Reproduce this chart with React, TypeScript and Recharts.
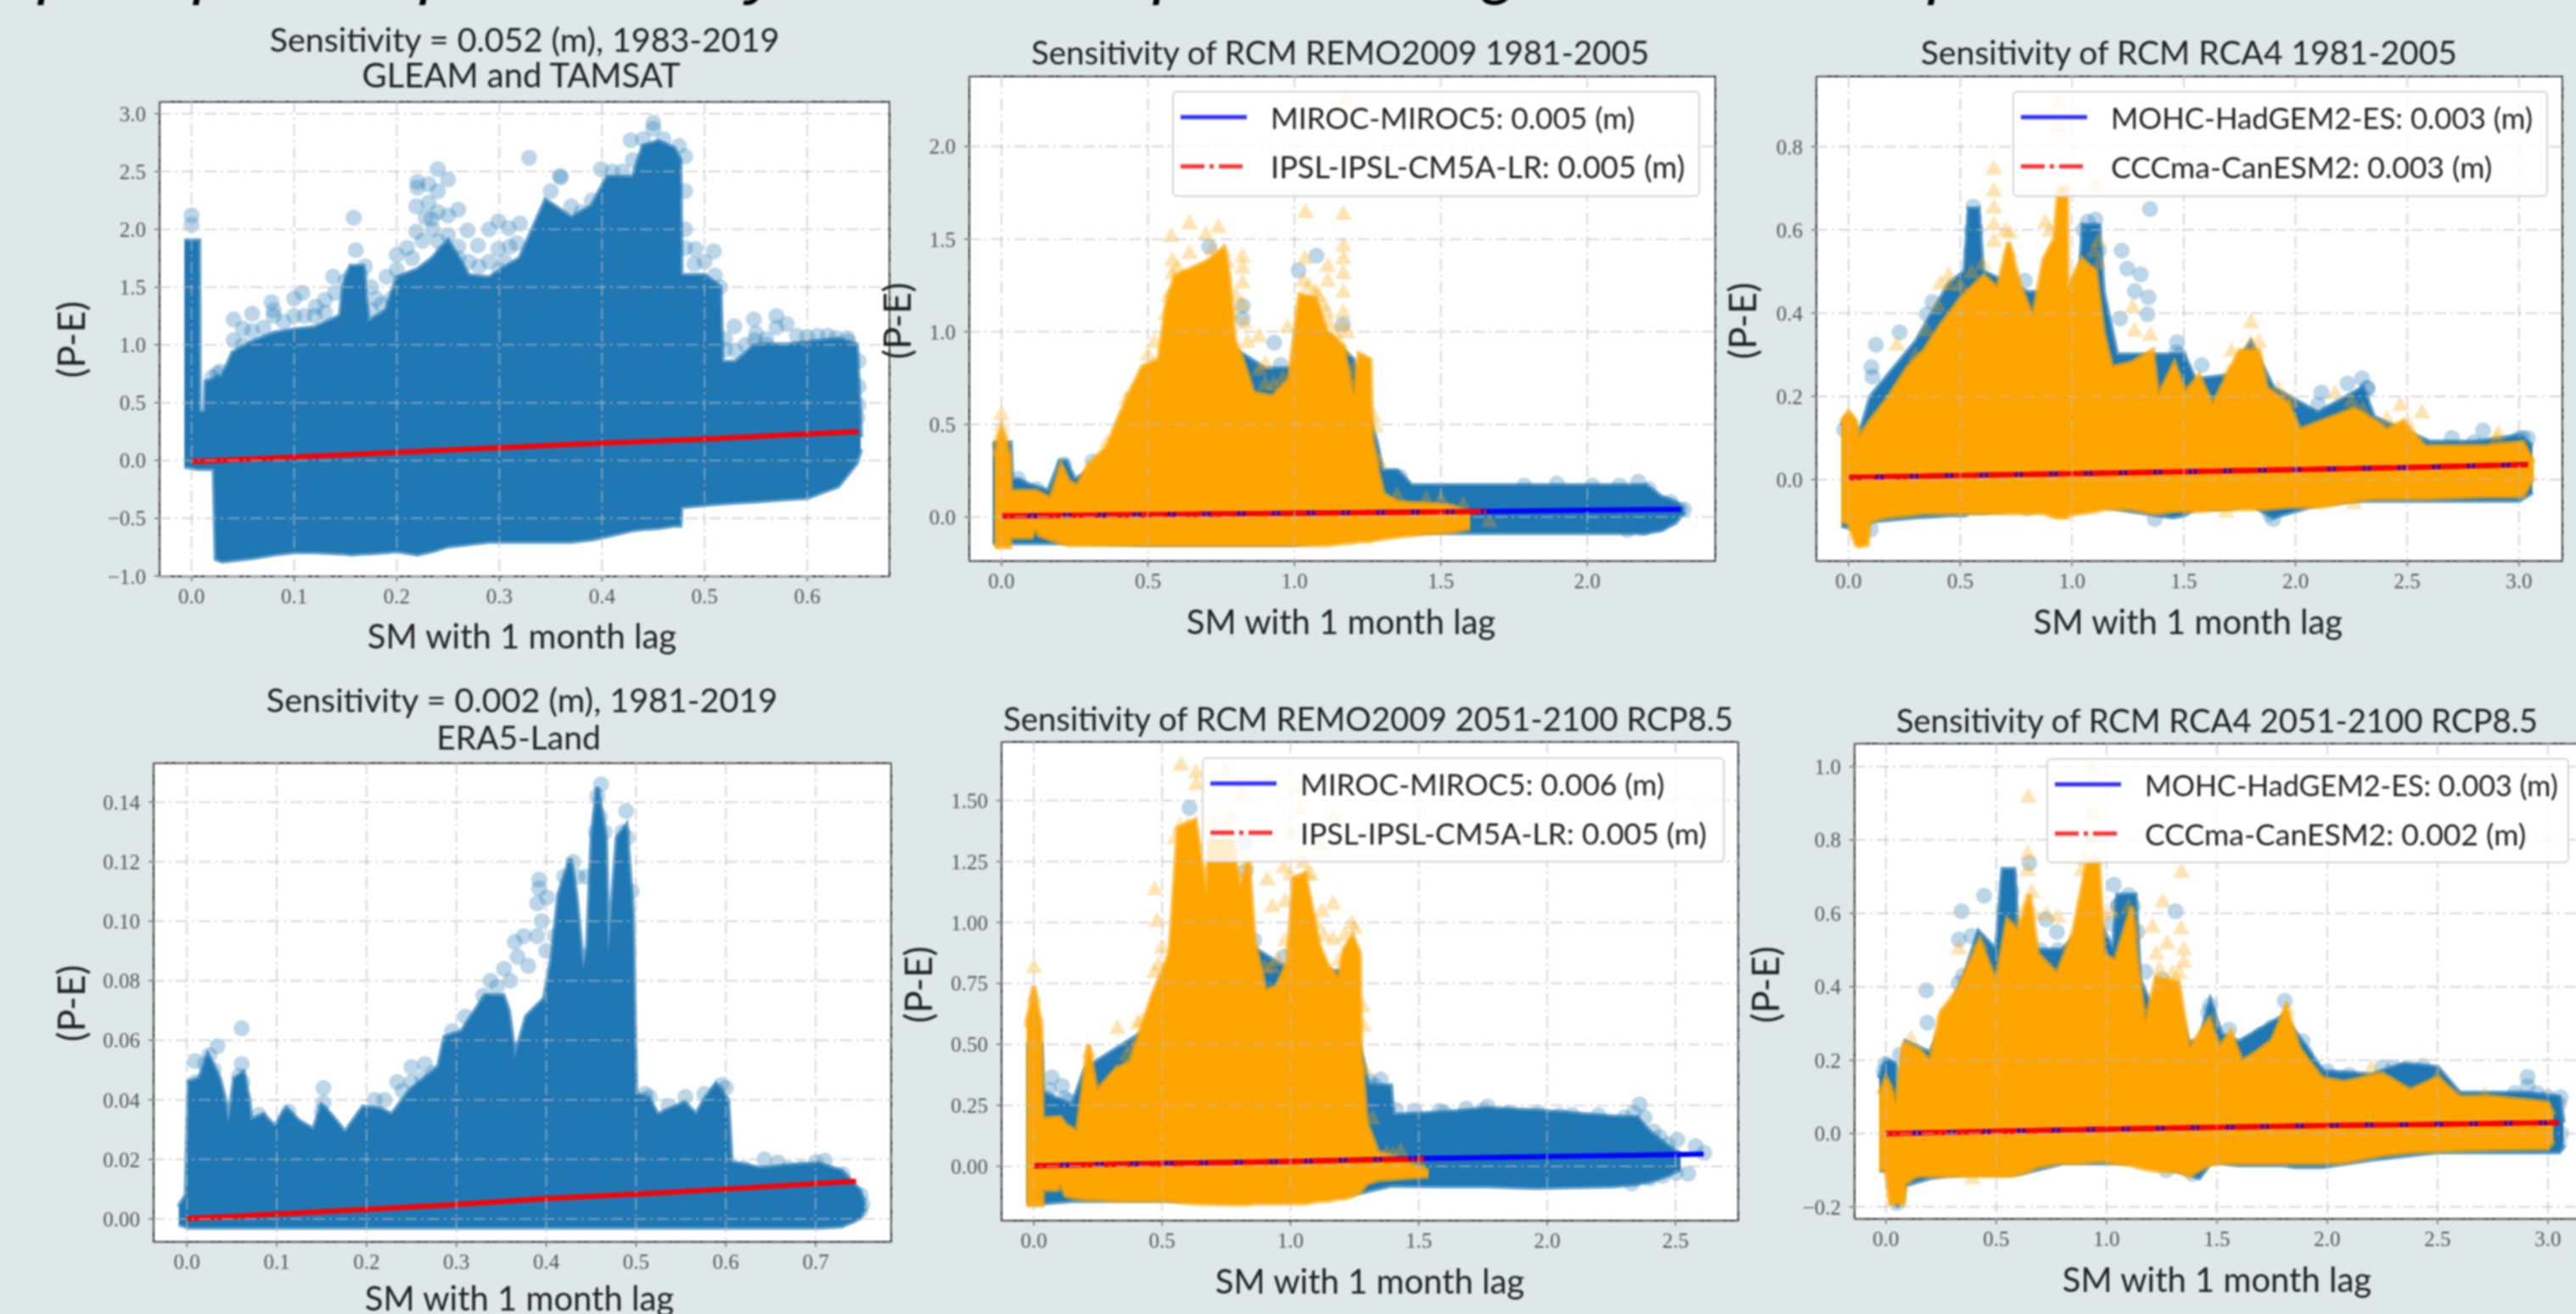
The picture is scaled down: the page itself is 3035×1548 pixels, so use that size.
import { ComposedChart, Area, Scatter, Line, XAxis, YAxis, CartesianGrid } from 'recharts';

const BLUE = '#1f77b4';
const ORANGE = '#ffa500';
const SANS = 'Lato, "Open Sans", sans-serif';
const SERIF = '"Liberation Serif", serif';

const X_LABEL = 'SM with 1 month lag';
const Y_LABEL = '(P-E)';

// ---- panel A: GLEAM and TAMSAT
const A_SM = [-0.007, 0.007, 0.0075, 0.013, 0.014, 0.022, 0.024, 0.03, 0.04, 0.06, 0.08, 0.1, 0.12, 0.145, 0.148, 0.155, 0.167, 0.172, 0.19, 0.2, 0.22, 0.235, 0.25, 0.27, 0.29, 0.32, 0.33, 0.345, 0.37, 0.39, 0.405, 0.43, 0.44, 0.455, 0.47, 0.476, 0.477, 0.5, 0.515, 0.517, 0.53, 0.55, 0.58, 0.6, 0.63, 0.648, 0.652];
const A_UPPER = [1.9, 1.9, 0.42, 0.42, 0.68, 0.7, 0.72, 0.72, 0.93, 1.03, 1.1, 1.13, 1.15, 1.25, 1.5, 1.68, 1.68, 1.2, 1.3, 1.58, 1.65, 1.75, 1.9, 1.6, 1.58, 1.75, 1.95, 2.25, 2.1, 2.2, 2.45, 2.45, 2.72, 2.76, 2.7, 2.6, 1.6, 1.6, 1.5, 0.85, 0.85, 1.0, 1.0, 1.02, 1.05, 1.0, 0.2];
const A_LOWER = [-0.05, -0.07, -0.07, -0.07, -0.07, -0.07, -0.85, -0.87, -0.86, -0.84, -0.81, -0.79, -0.79, -0.8, -0.8, -0.81, -0.8, -0.8, -0.79, -0.78, -0.81, -0.78, -0.74, -0.72, -0.7, -0.7, -0.7, -0.7, -0.7, -0.68, -0.65, -0.6, -0.59, -0.58, -0.56, -0.56, -0.4, -0.38, -0.37, -0.37, -0.36, -0.35, -0.33, -0.32, -0.22, -0.02, 0.1];
const A_POINTS = [[0, 2.12], [0, 2.04], [0.158, 2.1], [0.16, 1.82], [0.2, 1.78], [0.21, 1.84], [0.19, 1.59], [0.138, 1.59], [0.22, 2.41], [0.22, 2.36], [0.24, 2.52], [0.25, 2.43], [0.24, 2.33], [0.231, 2.39], [0.219, 2.2], [0.231, 2.23], [0.26, 2.17], [0.25, 2.12], [0.269, 1.99], [0.219, 1.98], [0.234, 2.09], [0.299, 2.07], [0.29, 2.0], [0.309, 2.01], [0.32, 2.05], [0.279, 1.86], [0.299, 1.83], [0.317, 1.88], [0.329, 2.62], [0.359, 2.46], [0.35, 2.33], [0.399, 2.52], [0.428, 2.77], [0.45, 2.92], [0.45, 2.87], [0.481, 2.63], [0.481, 2.33], [0.481, 2.0], [0.481, 1.84], [0.509, 1.81], [0.491, 1.83], [0.529, 1.16], [0.548, 1.22], [0.57, 1.25], [0.58, 1.18], [0.57, 1.15], [0.549, 1.04], [0.56, 1.05], [0.631, -0.08], [0.65, 0.86], [0.65, 0.64], [0.65, 0.48], [0.649, 0.37], [0.628, 1.06], [0.639, 1.06], [0.52, 0.96], [0.041, 1.22], [0.059, 1.27], [0.041, 1.04], [0.059, 1.12], [0.05, 1.14], [0.028, 0.77], [0.078, 1.37], [0.1, 1.4], [0.108, 1.45], [0.121, 1.33], [0.13, 1.39], [0.169, 1.68],
  [0.225, 1.9], [0.235, 2.0], [0.245, 1.8], [0.25, 1.95], [0.24, 2.15], [0.228, 2.1], [0.215, 1.75], [0.26, 1.75], [0.27, 1.72], [0.28, 1.68], [0.29, 1.72], [0.3, 1.65], [0.305, 1.72], [0.31, 1.85], [0.26, 1.85], [0.24, 1.9], [0.36, 2.45], [0.37, 2.2], [0.38, 2.15], [0.385, 2.05], [0.39, 2.25], [0.41, 2.5], [0.42, 2.5], [0.43, 2.6], [0.44, 2.78], [0.46, 2.78], [0.475, 2.72], [0.49, 1.7], [0.5, 1.72], [0.51, 1.6], [0.515, 1.5], [0.52, 1.05], [0.53, 0.95], [0.54, 1.0], [0.55, 1.1], [0.56, 1.0], [0.59, 1.08], [0.6, 1.07], [0.61, 1.08], [0.62, 1.08], [0.64, 1.03], [0.07, 1.15], [0.08, 1.25], [0.08, 1.3], [0.09, 1.2], [0.1, 1.25], [0.11, 1.25], [0.12, 1.25], [0.13, 1.28], [0.14, 1.45], [0.15, 1.55], [0.155, 1.6], [0.165, 1.6], [0.175, 1.5], [0.18, 1.4], [0.185, 1.35], [0.175, 1.3], [0.195, 1.4], [0.2, 1.65], [0.21, 1.55], [0.025, 0.75], [0.02, 0.72], [0.06, 0.95], [0.05, 1.0]];
const A_FIT_X = [0, 0.1, 0.2, 0.3, 0.4, 0.5, 0.6, 0.65];
const A_FIT_Y = [-0.01, 0.03, 0.07, 0.11, 0.15, 0.185, 0.23, 0.25];

// ---- panel B: REMO2009 1981-2005
const B_BLUE_SM = [-0.03, 0.03, 0.035, 0.06, 0.1, 0.16, 0.2, 0.22, 0.25, 0.3, 0.5, 0.6, 0.7, 0.8, 0.9, 1.0, 1.1, 1.2, 1.28, 1.3, 1.35, 1.4, 1.6, 1.8, 2.1, 2.2, 2.25, 2.3, 2.33];
const B_BLUE_UPPER = [0.4, 0.4, 0.2, 0.2, 0.17, 0.14, 0.3, 0.3, 0.2, 0.25, 0.5, 1.0, 1.3, 0.9, 0.8, 0.8, 1.0, 0.85, 0.4, 0.25, 0.25, 0.17, 0.17, 0.17, 0.17, 0.17, 0.11, 0.08, 0.04];
const B_BLUE_LOWER = [-0.14, -0.14, -0.14, -0.14, -0.14, -0.14, -0.14, -0.14, -0.14, -0.14, -0.15, -0.15, -0.15, -0.15, -0.15, -0.15, -0.13, -0.12, -0.1, -0.09, -0.085, -0.085, -0.085, -0.085, -0.085, -0.085, -0.07, -0.03, 0.03];
const B_ORANGE_SM = [-0.024, 0, 0.028, 0.031, 0.102, 0.117, 0.13, 0.167, 0.204, 0.231, 0.259, 0.296, 0.361, 0.407, 0.481, 0.537, 0.564, 0.592, 0.703, 0.759, 0.777, 0.796, 0.823, 0.86, 0.925, 0.981, 1.018, 1.073, 1.11, 1.166, 1.203, 1.221, 1.258, 1.264, 1.286, 1.304, 1.351, 1.443, 1.536, 1.6];
const B_ORANGE_UPPER = [0.33, 0.47, 0.33, 0.14, 0.14, 0.14, 0.13, 0.1, 0.28, 0.19, 0.17, 0.28, 0.38, 0.56, 0.81, 0.85, 1.15, 1.3, 1.38, 1.45, 1.3, 0.95, 0.85, 0.67, 0.65, 0.74, 1.2, 1.18, 1.0, 0.92, 0.65, 0.88, 0.85, 0.44, 0.24, 0.125, 0.08, 0.07, 0.06, 0.02];
const B_ORANGE_LOWER = [-0.16, -0.16, -0.16, -0.11, -0.11, -0.06, -0.1, -0.12, -0.14, -0.15, -0.15, -0.15, -0.15, -0.15, -0.15, -0.15, -0.15, -0.15, -0.15, -0.15, -0.15, -0.15, -0.15, -0.15, -0.15, -0.15, -0.15, -0.15, -0.15, -0.14, -0.135, -0.13, -0.13, -0.125, -0.12, -0.115, -0.105, -0.09, -0.08, -0.06];
const B_CIRCLES = [[0.709, 1.46], [1.075, 1.41], [1.014, 1.33], [0.931, 0.94], [0.953, 0.82], [0.823, 1.14], [0.823, 1.07], [0.638, 1.27], [1.166, 1.04], [1.119, 0.95], [0.984, 0.72], [0.213, 0.285], [0.311, 0.3], [0.056, 0.205], [0.12, 0.15], [1.332, 0.217], [1.36, 0.217], [2.174, 0.19], [2.21, 0.15], [2.285, 0.08], [2.316, 0.04], [2.25, -0.04], [1.896, 0.18], [2.017, 0.17], [2.11, 0.17], [1.785, 0.17], [2.19, -0.06], [2.137, -0.07], [2.33, 0.04]];
const B_TRIANGLES = [[1.177, 2.26], [0, 0.56], [0, 0.46], [0.642, 1.59], [0.74, 1.57], [0.698, 1.53], [0.579, 1.52], [1.038, 1.65], [1.167, 1.64], [1.167, 1.47], [1.167, 1.4], [1.167, 1.32], [1.114, 1.36], [1.114, 1.28], [1.167, 1.22], [1.036, 1.4], [0.823, 1.41], [0.823, 1.35], [0.823, 1.27], [0.642, 1.43], [0.583, 1.39], [0.583, 1.32], [0.583, 1.22], [0.759, 1.44], [0.977, 1.03], [0.879, 0.98], [0.522, 0.95], [0.901, 0.83], [1.166, 1.11], [1.166, 1.04], [1.277, 0.49], [0.481, 0.76], [0.444, 0.68], [0.426, 0.64], [0.361, 0.41], [1.576, 0.07], [1.665, -0.02], [1.267, 0.35], [1.073, 1.22], [1.11, 1.11],
  [0.56, 1.1], [0.6, 1.35], [0.62, 1.3], [0.64, 1.25], [0.57, 1.2], [0.66, 1.3], [0.72, 1.45], [0.77, 1.38], [0.79, 1.1], [0.8, 1.2], [0.82, 1.15], [0.83, 1.05], [0.84, 0.95], [0.88, 0.8], [1.03, 1.28], [1.05, 1.25], [1.08, 1.2], [1.1, 1.15], [1.12, 1.05], [1.14, 1.0], [1.15, 0.95], [1.17, 0.9], [1.18, 1.0], [1.2, 0.8], [0.5, 0.88], [0.47, 0.7], [0.44, 0.6], [0.4, 0.5], [0.93, 0.72], [0.96, 0.75], [0.9, 0.72], [1.27, 0.55], [1.29, 0.3], [1.35, 0.12], [1.45, 0.1], [1.5, 0.1], [0, 0.5], [-0.01, 0.42], [0.01, 0.42]];
const B_MIROC_X = [0, 0.5, 1, 1.5, 2, 2.32];
const B_MIROC_Y = [0.005, 0.013, 0.02, 0.027, 0.036, 0.041];
const B_IPSL_X = [0, 0.5, 1, 1.5, 1.66];
const B_IPSL_Y = [0.006, 0.013, 0.019, 0.027, 0.03];

// ---- panel C: RCA4 1981-2005
const C_BLUE_SM = [-0.032, 0, 0.05, 0.1, 0.3, 0.45, 0.52, 0.54, 0.58, 0.6, 0.8, 1.03, 1.05, 1.12, 1.14, 1.2, 1.45, 1.5, 1.55, 1.7, 1.8, 1.9, 2.1, 2.3, 2.35, 2.6, 2.8, 3.0, 3.06];
const C_BLUE_UPPER = [0.13, 0.15, 0.11, 0.2, 0.33, 0.47, 0.5, 0.65, 0.65, 0.5, 0.45, 0.45, 0.61, 0.61, 0.45, 0.3, 0.3, 0.3, 0.24, 0.25, 0.33, 0.22, 0.16, 0.22, 0.15, 0.09, 0.09, 0.105, 0.08];
const C_BLUE_LOWER = [-0.11, -0.115, -0.12, -0.1, -0.09, -0.085, -0.085, -0.08, -0.08, -0.08, -0.07, -0.07, -0.065, -0.065, -0.065, -0.07, -0.09, -0.085, -0.07, -0.07, -0.06, -0.09, -0.06, -0.05, -0.05, -0.05, -0.05, -0.05, -0.03];
const C_ORANGE_SM = [-0.032, 0, 0.034, 0.046, 0.083, 0.095, 0.168, 0.265, 0.338, 0.411, 0.508, 0.606, 0.667, 0.716, 0.765, 0.825, 0.874, 0.923, 0.94, 0.976, 0.979, 1.045, 1.106, 1.142, 1.178, 1.264, 1.361, 1.385, 1.458, 1.507, 1.568, 1.629, 1.751, 1.836, 1.872, 1.97, 2.019, 2.116, 2.262, 2.359, 2.408, 2.481, 2.579, 2.846, 3.017, 3.066];
const C_ORANGE_UPPER = [0.138, 0.163, 0.138, 0.1, 0.13, 0.14, 0.19, 0.27, 0.31, 0.37, 0.44, 0.49, 0.46, 0.57, 0.47, 0.39, 0.53, 0.58, 0.7, 0.7, 0.46, 0.53, 0.5, 0.35, 0.27, 0.28, 0.31, 0.2, 0.28, 0.21, 0.25, 0.18, 0.31, 0.31, 0.22, 0.18, 0.12, 0.14, 0.17, 0.14, 0.12, 0.14, 0.08, 0.08, 0.09, 0.04];
const C_ORANGE_LOWER = [-0.1, -0.105, -0.156, -0.16, -0.156, -0.1, -0.09, -0.085, -0.08, -0.08, -0.08, -0.08, -0.08, -0.08, -0.08, -0.08, -0.08, -0.09, -0.09, -0.09, -0.085, -0.08, -0.075, -0.07, -0.07, -0.07, -0.08, -0.08, -0.075, -0.075, -0.075, -0.072, -0.07, -0.07, -0.07, -0.065, -0.065, -0.065, -0.05, -0.045, -0.045, -0.045, -0.045, -0.04, -0.04, 0.006];
const C_CIRCLES = [[1.349, 0.65], [1.222, 0.55], [1.247, 0.507], [1.307, 0.493], [1.281, 0.453], [1.342, 0.438], [1.337, 0.397], [1.215, 0.387], [0.229, 0.354], [0.122, 0.324], [0.102, 0.27], [0.107, 0.247], [0.351, 0.397], [0.375, 0.427], [0.789, 0.478], [1.58, 0.275], [1.466, 0.306], [2.298, 0.243], [2.233, 0.231], [2.116, 0.209], [2.323, 0.219], [2.839, 0.118], [3.017, 0.1], [1.885, -0.083], [0.558, 0.656], [1.105, 0.625],
  [0.55, 0.6], [0.56, 0.63], [0.57, 0.6], [0.55, 0.55], [1.05, 0.6], [1.07, 0.62], [1.1, 0.6], [1.12, 0.55], [1.48, 0.3], [1.47, 0.33], [2.1, 0.18], [2.15, 0.16], [2.2, 0.16], [2.3, 0.2], [2.32, 0.22], [3.0, 0.1], [3.04, 0.1], [2.8, 0.09], [2.7, 0.1], [0, 0.14], [-0.02, 0.12], [0.1, -0.12], [0.8, -0.07], [1.37, -0.095], [1.9, -0.095]];
const C_TRIANGLES = [[0.942, 0.91], [0.942, 0.85], [0.65, 0.749], [0.65, 0.696], [0.65, 0.656], [0.65, 0.615], [0.65, 0.575], [1.11, 0.71], [0.721, 0.595], [0.217, 0.326], [0.411, 0.473], [0.448, 0.493], [1.8, 0.38], [1.836, 0.333], [1.714, 0.311], [2.469, 0.181], [2.566, 0.163], [2.408, 0.148], [2.177, 0.209], [0.959, -0.08], [1.69, -0.075], [2.262, -0.055], [1.271, 0.417], [1.118, 0.575], [1.921, 0.219], [1.982, 0.189], [2.907, 0.113],
  [0.6, 0.52], [0.55, 0.5], [0.5, 0.47], [0.45, 0.47], [0.4, 0.42], [0.35, 0.36], [0.3, 0.3], [0.7, 0.6], [0.72, 0.55], [0.9, 0.6], [0.88, 0.62], [1.1, 0.55], [1.12, 0.52], [1.28, 0.36], [1.35, 0.35], [1.7, 0.26], [1.8, 0.33], [1.95, 0.2], [2.25, 0.19], [2.3, 0.17], [2.5, 0.14], [2.9, 0.1]];
const C_FIT_X = [0, 0.5, 1, 1.5, 2, 2.5, 3.04];
const C_FIT_Y = [0.005, 0.01, 0.014, 0.019, 0.024, 0.029, 0.036];

// ---- panel D: ERA5-Land
const D_SM = [-0.009, -0.0007, 0.002, 0.0137, 0.0234, 0.0364, 0.043, 0.046, 0.053, 0.0625, 0.069, 0.071, 0.085, 0.098, 0.111, 0.124, 0.141, 0.15, 0.16, 0.176, 0.196, 0.215, 0.228, 0.248, 0.28, 0.287, 0.306, 0.332, 0.352, 0.358, 0.365, 0.378, 0.398, 0.407, 0.414, 0.427, 0.433, 0.441, 0.446, 0.451, 0.457, 0.466, 0.469, 0.479, 0.489, 0.496, 0.4997, 0.515, 0.524, 0.554, 0.567, 0.576, 0.589, 0.602, 0.606, 0.638, 0.703, 0.729, 0.749, 0.754];
const D_UPPER = [0.004, 0.008, 0.046, 0.047, 0.055, 0.047, 0.039, 0.032, 0.047, 0.049, 0.04, 0.033, 0.035, 0.031, 0.037, 0.033, 0.03, 0.038, 0.035, 0.029, 0.0375, 0.037, 0.035, 0.043, 0.051, 0.061, 0.063, 0.075, 0.075, 0.07, 0.054, 0.068, 0.074, 0.089, 0.109, 0.121, 0.109, 0.084, 0.092, 0.128, 0.145, 0.128, 0.089, 0.128, 0.132, 0.103, 0.042, 0.04, 0.035, 0.039, 0.035, 0.04, 0.045, 0.04, 0.019, 0.017, 0.0186, 0.016, 0.0095, 0.0046];
const D_LOWER = [-0.0017, -0.0025, -0.0028, -0.0028, -0.0028, -0.0028, -0.0028, -0.0028, -0.0028, -0.0028, -0.0028, -0.0028, -0.0028, -0.0028, -0.0028, -0.0028, -0.0028, -0.0028, -0.0028, -0.0028, -0.0028, -0.0028, -0.0028, -0.0028, -0.0028, -0.0028, -0.0028, -0.0028, -0.0028, -0.0028, -0.0028, -0.0028, -0.0028, -0.0028, -0.0028, -0.0028, -0.0028, -0.0028, -0.0028, -0.0028, -0.0028, -0.0028, -0.0028, -0.0028, -0.0028, -0.0028, -0.0028, -0.0028, -0.0028, -0.0028, -0.0028, -0.0028, -0.0028, -0.0028, -0.0028, -0.0028, -0.0028, -0.0024, 0.0004, 0.0035];
const D_POINTS = [[0.461, 0.146], [0.457, 0.142], [0.489, 0.137], [0.392, 0.114], [0.392, 0.111], [0.401, 0.108], [0.39, 0.106], [0.445, 0.115], [0.365, 0.093], [0.375, 0.095], [0.368, 0.088], [0.353, 0.084], [0.338, 0.08], [0.061, 0.064], [0.034, 0.058], [0.009, 0.053], [0.061, 0.052], [0.152, 0.044], [0.152, 0.039], [0.25, 0.051], [0.265, 0.052], [0.274, 0.049], [0.25, 0.046], [0.262, 0.047], [0.234, 0.046], [0.209, 0.04], [0.555, 0.041], [0.51, 0.042], [0.643, 0.02], [0.71, 0.0196], [0.658, 0.019], [0.684, 0.017], [0.08, 0.035], [0.113, 0.036], [0.365, 0.057], [0.536, 0.038], [0.576, 0.042],
  [0.39, 0.095], [0.395, 0.1], [0.38, 0.085], [0.36, 0.08], [0.345, 0.078], [0.33, 0.075], [0.31, 0.068], [0.295, 0.063], [0.4, 0.09], [0.41, 0.095], [0.42, 0.115], [0.43, 0.12], [0.435, 0.115], [0.455, 0.13], [0.46, 0.135], [0.465, 0.13], [0.485, 0.13], [0.49, 0.128], [0.495, 0.11], [0.02, 0.052], [0.025, 0.055], [0.03, 0.05], [0.01, 0.046], [0.058, 0.048], [0.062, 0.046], [0.15, 0.036], [0.11, 0.034], [0.22, 0.04], [0.24, 0.043], [0.6, 0.044], [0.595, 0.045], [0.59, 0.043], [0.51, 0.04], [0.515, 0.041], [0.62, 0.017], [0.67, 0.017], [0.7, 0.019], [0.73, 0.015], [0.75, 0.008], [0.752, 0.005], [0.75, 0.003], [0.74, 0.001]];
const D_FIT_X = [0, 0.1, 0.2, 0.3, 0.4, 0.5, 0.6, 0.7, 0.745];
const D_FIT_Y = [0.0001, 0.0016, 0.0032, 0.0048, 0.0068, 0.0083, 0.01, 0.0118, 0.0127];

// ---- panel E: REMO2009 2051-2100
const E_BLUE_SM = [-0.03, 0.03, 0.035, 0.15, 0.2, 0.5, 0.7, 1.0, 1.2, 1.29, 1.3, 1.39, 1.4, 1.6, 1.77, 1.95, 2.26, 2.35, 2.4, 2.46, 2.52];
const E_BLUE_UPPER = [0.5, 0.5, 0.3, 0.25, 0.4, 0.6, 1.0, 0.8, 0.8, 0.4, 0.33, 0.33, 0.21, 0.22, 0.237, 0.228, 0.203, 0.2, 0.14, 0.09, 0.05];
const E_BLUE_LOWER = [-0.15, -0.15, -0.15, -0.14, -0.14, -0.14, -0.14, -0.14, -0.12, -0.104, -0.1, -0.078, -0.078, -0.08, -0.08, -0.087, -0.08, -0.07, -0.06, -0.04, -0.01];
const E_ORANGE_SM = [-0.028, 0, 0.028, 0.033, 0.035, 0.092, 0.103, 0.125, 0.169, 0.213, 0.245, 0.322, 0.377, 0.464, 0.53, 0.563, 0.629, 0.673, 0.684, 0.771, 0.804, 0.837, 0.859, 0.903, 0.947, 0.99, 1.012, 1.056, 1.111, 1.144, 1.188, 1.209, 1.242, 1.269, 1.275, 1.297, 1.341, 1.538];
const E_ORANGE_UPPER = [0.57, 0.74, 0.57, 0.245, 0.195, 0.2, 0.2, 0.17, 0.143, 0.5, 0.31, 0.4, 0.43, 0.705, 0.875, 1.387, 1.42, 1.114, 1.335, 1.335, 1.148, 1.25, 0.927, 0.72, 0.74, 0.84, 1.18, 1.2, 0.91, 0.825, 0.77, 0.89, 0.944, 0.875, 0.467, 0.177, 0.058, -0.019];
const E_ORANGE_LOWER = [-0.158, -0.158, -0.158, -0.158, -0.095, -0.095, -0.07, -0.12, -0.13, -0.135, -0.135, -0.14, -0.14, -0.14, -0.14, -0.145, -0.15, -0.152, -0.152, -0.155, -0.155, -0.155, -0.15, -0.15, -0.15, -0.15, -0.15, -0.15, -0.14, -0.14, -0.13, -0.13, -0.12, -0.105, -0.1, -0.07, -0.055, -0.04];
const E_CIRCLES = [[0.607, 1.47], [0.826, 1.21], [0.826, 1.33], [0.859, 0.927], [0.975, 0.86], [0.979, 0.8], [0.07, 0.365], [0.059, 0.313], [0.11, 0.33], [0.136, 0.27], [1.352, 0.356], [1.308, 0.348], [1.411, 0.232], [1.483, 0.228], [1.582, 0.228], [1.685, 0.237], [1.768, 0.245], [2.36, 0.254], [2.338, 0.22], [2.415, 0.143], [2.507, 0.109], [2.579, 0.083], [2.612, 0.055], [2.55, -0.03], [2.502, -0.027], [2.426, 0.024], [1.965, 0.22], [2.097, 0.211],
  [1.3, 0.33], [1.33, 0.33], [1.36, 0.28], [1.6, 0.22], [1.75, 0.23], [1.85, 0.22], [2.05, 0.21], [2.2, 0.21], [2.3, 0.2], [2.38, 0.2], [2.44, 0.12], [2.47, 0.09], [2.4, -0.05], [2.45, -0.04], [2.33, -0.07], [0.12, 0.28], [0.09, 0.25], [0.05, 0.28]];
const E_TRIANGLES = [[0.574, 1.65], [0.633, 1.62], [0.633, 1.57], [0.749, 1.63], [0.767, 1.44], [0.815, 1.53], [1.034, 1.47], [1.045, 1.56], [1.166, 1.44], [1.004, 1.37], [1.111, 1.32], [1.034, 1.28], [0.973, 1.23], [0.909, 1.18], [1.065, 1.2], [0.471, 1.14], [0.929, 1.07], [0.979, 1.09], [0.48, 1.01], [1.166, 1.08], [1.238, 1.0], [1.122, 1.05], [0.486, 0.83], [0, 0.82], [0.326, 0.57], [0.405, 0.59], [0.215, 0.47], [0.322, 0.39], [0.362, 0.46], [1.286, 0.58], [1.429, 0.066], [1.374, 0.058], [1.282, 0.66], [0.979, 0.93], [1.166, 0.935], [0.925, 0.82], [0.815, 0.655],
  [0.55, 1.35], [0.57, 1.4], [0.6, 1.4], [0.7, 1.42], [0.75, 1.38], [0.78, 1.3], [0.83, 1.25], [1.0, 1.2], [1.05, 1.25], [1.08, 1.2], [1.1, 1.0], [1.13, 0.95], [1.19, 0.85], [1.21, 0.95], [1.25, 0.98], [0.5, 0.9], [0.47, 0.8], [0.42, 0.6], [0.39, 0.5], [0.9, 0.82], [0.95, 0.85], [1.0, 0.9], [1.29, 0.4], [1.32, 0.2], [1.4, 0.05], [1.5, 0.02], [0, 0.7], [-0.01, 0.62], [0.01, 0.62]];
const E_MIROC_X = [0, 0.5, 1, 1.5, 2, 2.5, 2.61];
const E_MIROC_Y = [0.003, 0.012, 0.02, 0.032, 0.04, 0.048, 0.051];
const E_IPSL_X = [0, 0.5, 1, 1.52];
const E_IPSL_Y = [0.002, 0.011, 0.02, 0.03];

// ---- panel F: RCA4 2051-2100
const F_BLUE_SM = [-0.03, 0, 0.04, 0.05, 0.09, 0.2, 0.35, 0.42, 0.5, 0.53, 0.58, 0.6, 0.8, 0.95, 1.03, 1.05, 1.13, 1.15, 1.2, 1.3, 1.37, 1.42, 1.47, 1.52, 1.6, 1.8, 1.85, 1.98, 2.2, 2.35, 2.5, 2.6, 2.9, 3.05, 3.07];
const F_BLUE_UPPER = [0.15, 0.2, 0.19, 0.1, 0.25, 0.22, 0.42, 0.55, 0.5, 0.72, 0.72, 0.5, 0.5, 0.6, 0.5, 0.65, 0.65, 0.42, 0.35, 0.4, 0.25, 0.25, 0.36, 0.27, 0.25, 0.32, 0.28, 0.17, 0.16, 0.19, 0.18, 0.11, 0.11, 0.1, 0.03];
const F_BLUE_LOWER = [-0.1, -0.1, -0.1, -0.2, -0.14, -0.12, -0.11, -0.11, -0.11, -0.11, -0.11, -0.11, -0.08, -0.08, -0.08, -0.08, -0.08, -0.08, -0.08, -0.1, -0.11, -0.12, -0.08, -0.08, -0.085, -0.085, -0.09, -0.09, -0.07, -0.06, -0.05, -0.05, -0.05, -0.05, -0.03];
const F_ORANGE_SM = [-0.03, 0, 0.02, 0.045, 0.08, 0.088, 0.125, 0.15, 0.2, 0.25, 0.325, 0.425, 0.5, 0.55, 0.6, 0.65, 0.688, 0.775, 0.85, 0.913, 0.963, 0.988, 1.038, 1.113, 1.138, 1.175, 1.225, 1.325, 1.375, 1.463, 1.513, 1.563, 1.613, 1.675, 1.75, 1.813, 1.875, 1.975, 2.075, 2.25, 2.375, 2.5, 2.6, 2.75, 3.0, 3.025];
const F_ORANGE_UPPER = [0.107, 0.152, 0.129, 0.078, 0.243, 0.243, 0.235, 0.23, 0.197, 0.33, 0.39, 0.526, 0.413, 0.583, 0.549, 0.651, 0.49, 0.436, 0.549, 0.742, 0.742, 0.49, 0.47, 0.617, 0.47, 0.3, 0.424, 0.413, 0.23, 0.31, 0.237, 0.277, 0.197, 0.22, 0.254, 0.345, 0.23, 0.152, 0.14, 0.163, 0.118, 0.152, 0.1, 0.1, 0.084, 0.05];
const F_ORANGE_LOWER = [-0.098, -0.098, -0.19, -0.19, -0.19, -0.137, -0.12, -0.115, -0.115, -0.115, -0.115, -0.115, -0.115, -0.115, -0.11, -0.1, -0.09, -0.08, -0.08, -0.078, -0.075, -0.075, -0.08, -0.085, -0.09, -0.095, -0.1, -0.103, -0.115, -0.085, -0.08, -0.08, -0.08, -0.08, -0.08, -0.08, -0.08, -0.08, -0.078, -0.058, -0.05, -0.047, -0.045, -0.042, -0.04, -0.02];
const F_CIRCLES = [[0.445, 0.648], [0.343, 0.606], [0.183, 0.39], [0.188, 0.302], [0.33, 0.529], [0.388, 0.538], [0.65, 0.737], [1.033, 0.678], [1.055, 0.623], [1.025, 0.572], [1.313, 0.606], [1.175, 0.441], [1.808, 0.362], [1.888, 0.252], [1.555, 0.283], [2.433, 0.184], [2.908, 0.154], [2.908, 0.129], [3.058, 0.099], [0.725, 0.583], [0.775, 0.549], [0.063, 0.215],
  [0.55, 0.68], [0.56, 0.7], [0.57, 0.66], [0.54, 0.6], [0.56, 0.64], [0.7, 0.5], [0.78, 0.5], [1.05, 0.62], [1.1, 0.65], [1.12, 0.62], [1.14, 0.55], [1.47, 0.35], [1.46, 0.33], [1.7, 0.27], [1.75, 0.29], [1.05, 0.5], [2.0, 0.17], [2.1, 0.16], [2.25, 0.18], [2.3, 0.18], [2.35, 0.17], [2.85, 0.11], [2.95, 0.11], [3.0, 0.1], [3.05, 0.08], [3.06, 0.0], [3.05, -0.03], [0, 0.19], [-0.01, 0.17], [0.02, 0.18], [0.35, 0.43], [0.33, 0.41], [1.9, 0.22], [0.05, -0.19], [0.06, -0.17], [1.39, -0.11], [1.27, -0.1], [1.25, 0.42]];
const F_TRIANGLES = [[0.938, 1.0], [0.938, 0.958], [0.938, 0.878], [0.938, 0.81], [0.645, 0.92], [0.643, 0.765], [0.643, 0.72], [1.34, 0.716], [1.255, 0.634], [1.208, 0.566], [1.338, 0.561], [1.35, 0.504], [1.225, 0.493], [1.275, 0.521], [0.728, 0.6], [0.78, 0.592], [0.33, 0.506], [2.2, 0.18], [2.5, 0.158], [0.113, 0.26], [1.025, 0.606], [0.888, 0.72], [1.35, 0.47], [2.713, 0.107], [0.393, -0.12], [0.55, -0.103],
  [0.6, 0.58], [0.63, 0.62], [0.66, 0.66], [0.67, 0.6], [0.9, 0.75], [0.95, 0.75], [0.98, 0.6], [1.1, 0.62], [1.12, 0.58], [1.13, 0.55], [1.3, 0.44], [1.33, 0.44], [1.24, 0.45], [1.48, 0.31], [1.82, 0.34], [1.88, 0.22], [0.26, 0.33], [0.33, 0.39], [0.43, 0.52], [0.1, 0.23]];
const F_FIT_X = [0, 0.5, 1, 1.5, 2, 2.5, 3.05];
const F_FIT_Y = [0, 0.006, 0.012, 0.017, 0.022, 0.025, 0.03];

const toBand = (sm: number[], upper: number[], lower: number[]) =>
  sm.map((x, i) => ({ x, band: [lower[i], upper[i]] }));
const toPoints = (pairs: number[][]) => pairs.map(([x, y]) => ({ x, y }));
const toLine = (xs: number[], ys: number[]) => xs.map((x, i) => ({ x, y: ys[i] }));

const Circle = ({ cx, cy }: any) => <circle cx={cx} cy={cy} r={9.5} fill={BLUE} fillOpacity={0.3} />;
const Triangle = ({ cx, cy }: any) => (
  <polygon points={`${cx},${cy - 10} ${cx - 10},${cy + 8} ${cx + 10},${cy + 8}`} fill={ORANGE} fillOpacity={0.3} />
);

const PANELS: any[] = [
  {
    box: { left: 187, top: 119, width: 862, height: 561 }, xDomain: [-0.032, 0.681], yDomain: [-1.01, 3.11],
    xTicks: [0, 0.1, 0.2, 0.3, 0.4, 0.5, 0.6], yTicks: [-1, -0.5, 0, 0.5, 1, 1.5, 2, 2.5, 3], yDigits: 1,
    title: [['Sensitivity = 0.052 (m), 1983-2019', 618, 46, 39.4], ['GLEAM and TAMSAT', 614, 88, 40]],
    xLabel: [615, 749], yLabel: [83, 400],
    blueBand: toBand(A_SM, A_UPPER, A_LOWER), circles: toPoints(A_POINTS),
    fitBlue: toLine(A_FIT_X, A_FIT_Y), fitSolidRed: true,
  },
  {
    box: { left: 1141, top: 89, width: 881, height: 573 }, xDomain: [-0.113, 2.44], yDomain: [-0.243, 2.383],
    xTicks: [0, 0.5, 1, 1.5, 2], yTicks: [0, 0.5, 1, 1.5, 2], yDigits: 1,
    title: [['Sensitivity of RCM REMO2009 1981-2005', 1579, 61, 38.5]],
    xLabel: [1580, 732], yLabel: [1056, 378],
    blueBand: toBand(B_BLUE_SM, B_BLUE_UPPER, B_BLUE_LOWER), circles: toPoints(B_CIRCLES),
    orangeBand: toBand(B_ORANGE_SM, B_ORANGE_UPPER, B_ORANGE_LOWER), triangles: toPoints(B_TRIANGLES),
    fitBlue: toLine(B_MIROC_X, B_MIROC_Y), fitRed: toLine(B_IPSL_X, B_IPSL_Y),
    legend: { box: { left: 1381, top: 107, width: 622, height: 125 }, entries: [['MIROC-MIROC5: 0.005 (m)', 35.2], ['IPSL-IPSL-CM5A-LR: 0.005 (m)', 36.2]] },
  },
  {
    box: { left: 2139, top: 89, width: 881, height: 573 }, xDomain: [-0.148, 3.198], yDomain: [-0.198, 0.971],
    xTicks: [0, 0.5, 1, 1.5, 2, 2.5, 3], yTicks: [0, 0.2, 0.4, 0.6, 0.8], yDigits: 1,
    title: [['Sensitivity of RCM RCA4 1981-2005', 2579, 61, 39]],
    xLabel: [2578, 732], yLabel: [2052, 378],
    blueBand: toBand(C_BLUE_SM, C_BLUE_UPPER, C_BLUE_LOWER), circles: toPoints(C_CIRCLES),
    orangeBand: toBand(C_ORANGE_SM, C_ORANGE_UPPER, C_ORANGE_LOWER), triangles: toPoints(C_TRIANGLES),
    fitBlue: toLine(C_FIT_X, C_FIT_Y), fitRed: toLine(C_FIT_X, C_FIT_Y),
    legend: { box: { left: 2371, top: 107, width: 631, height: 125 }, entries: [['MOHC-HadGEM2-ES: 0.003 (m)', 34.8], ['CCCma-CanESM2: 0.003 (m)', 35.5]] },
  },
  {
    box: { left: 180, top: 898, width: 871, height: 566 }, xDomain: [-0.038, 0.785], yDomain: [-0.008, 0.1534],
    xTicks: [0, 0.1, 0.2, 0.3, 0.4, 0.5, 0.6, 0.7], yTicks: [0, 0.02, 0.04, 0.06, 0.08, 0.1, 0.12, 0.14], yDigits: 2,
    title: [['Sensitivity = 0.002 (m), 1981-2019', 615, 824, 39.5], ['ERA5-Land', 611, 868, 39]],
    xLabel: [612, 1529], yLabel: [83, 1182],
    blueBand: toBand(D_SM, D_UPPER, D_LOWER), circles: toPoints(D_POINTS),
    fitBlue: toLine(D_FIT_X, D_FIT_Y), fitSolidRed: true,
  },
  {
    box: { left: 1179, top: 873, width: 870, height: 566 }, xDomain: [-0.129, 2.748], yDomain: [-0.226, 1.744],
    xTicks: [0, 0.5, 1, 1.5, 2, 2.5], yTicks: [0, 0.25, 0.5, 0.75, 1, 1.25, 1.5], yDigits: 2,
    title: [['Sensitivity of RCM REMO2009 2051-2100 RCP8.5', 1612, 846, 38.3]],
    xLabel: [1614, 1509], yLabel: [1081, 1160],
    blueBand: toBand(E_BLUE_SM, E_BLUE_UPPER, E_BLUE_LOWER), circles: toPoints(E_CIRCLES),
    orangeBand: toBand(E_ORANGE_SM, E_ORANGE_UPPER, E_ORANGE_LOWER), triangles: toPoints(E_TRIANGLES),
    fitBlue: toLine(E_MIROC_X, E_MIROC_Y), fitRed: toLine(E_IPSL_X, E_IPSL_Y),
    legend: { box: { left: 1416, top: 892, width: 616, height: 124 }, entries: [['MIROC-MIROC5: 0.006 (m)', 35.2], ['IPSL-IPSL-CM5A-LR: 0.005 (m)', 35.5]] },
  },
  {
    box: { left: 2184, top: 875, width: 860, height: 562 }, xDomain: [-0.146, 3.162], yDomain: [-0.235, 1.065],
    xTicks: [0, 0.5, 1, 1.5, 2, 2.5, 3], yTicks: [-0.2, 0, 0.2, 0.4, 0.6, 0.8, 1], yDigits: 1,
    title: [['Sensitivity of RCM RCA4 2051-2100 RCP8.5', 2612, 848, 38.3]],
    xLabel: [2612, 1507], yLabel: [2079, 1160],
    blueBand: toBand(F_BLUE_SM, F_BLUE_UPPER, F_BLUE_LOWER), circles: toPoints(F_CIRCLES),
    orangeBand: toBand(F_ORANGE_SM, F_ORANGE_UPPER, F_ORANGE_LOWER), triangles: toPoints(F_TRIANGLES),
    fitBlue: toLine(F_FIT_X, F_FIT_Y), fitRed: toLine(F_FIT_X, F_FIT_Y),
    legend: { box: { left: 2411, top: 893, width: 616, height: 124 }, entries: [['MOHC-HadGEM2-ES: 0.003 (m)', 34.1], ['CCCma-CanESM2: 0.002 (m)', 35.5]] },
  },
];

// the slide heading above the figure is cut off, only these descenders still show
const HEADING_LETTERS = [['p', 46], ['p', 229], ['p', 496], ['y', 880], ['p', 1360], ['g', 1745], ['p', 2273]];

const Caption = ({ text, x, y, rotate = 0, size = 39 }: any) => (
  <div
    style={{
      position: 'absolute', left: x, top: y, transform: `translate(-50%, -50%) rotate(${rotate}deg)`,
      fontFamily: SANS, fontSize: size, color: '#222', whiteSpace: 'nowrap', lineHeight: 1,
    }}
  >
    {text}
  </div>
);

const Legend = ({ box, entries }: any) => (
  <div
    style={{
      position: 'absolute', ...box, boxSizing: 'border-box', background: 'rgba(255,255,255,0.8)',
      border: '2px solid #d4d4d4', borderRadius: 6,
    }}
  >
    {entries.map(([label, size]: any, i: number) => (
      <div key={label} style={{ position: 'absolute', left: 8, top: i === 0 ? 5 : 63, height: 48, display: 'flex', alignItems: 'center' }}>
        <svg width={80} height={8} style={{ marginRight: 26 }}>
          <line
            x1={0} x2={78} y1={4} y2={4} strokeWidth={5}
            stroke={i === 0 ? '#3333ff' : '#ff3333'} strokeDasharray={i === 0 ? undefined : '28 6 5 6'}
          />
        </svg>
        <span style={{ fontFamily: SANS, fontSize: size, color: '#222', whiteSpace: 'nowrap' }}>{label}</span>
      </div>
    ))}
  </div>
);

function Panel({ p }: { p: any }) {
  const axisW = 120;
  const axisH = 60;
  const fmt = (v: number) => v.toFixed(p.yDigits).replace('-', '\u2212');
  const tick = { fill: '#555', fontSize: 25, fontFamily: SERIF };
  return (
    <>
      <div
        style={{
          position: 'absolute', ...p.box, boxSizing: 'border-box', background: '#fff', border: '2px solid #2a2a2a',
        }}
      />
      <div style={{ position: 'absolute', left: p.box.left - axisW, top: p.box.top }}>
        <ComposedChart width={p.box.width + axisW} height={p.box.height + axisH} margin={{ top: 0, right: 0, bottom: 0, left: 0 }}>
          <XAxis
            type="number" dataKey="x" domain={p.xDomain} ticks={p.xTicks} allowDataOverflow height={axisH}
            tick={tick} tickFormatter={(v: number) => v.toFixed(1)} tickLine={{ stroke: '#333' }} tickSize={5} tickMargin={8}
            axisLine={false} interval={0}
          />
          <YAxis
            type="number" dataKey="y" domain={p.yDomain} ticks={p.yTicks} allowDataOverflow width={axisW}
            tick={tick} tickFormatter={fmt} tickLine={{ stroke: '#333' }} tickSize={5} tickMargin={10}
            axisLine={false} interval={0}
          />
          <Area
            data={p.blueBand} dataKey="band" type="linear" fill={BLUE} fillOpacity={1} stroke={BLUE} strokeWidth={6} strokeOpacity={0.7}
            dot={false} activeDot={false} isAnimationActive={false} zIndex={100}
          />
          <Scatter data={p.circles} shape={Circle} isAnimationActive={false} zIndex={110} />
          {p.orangeBand && (
            <Area
              data={p.orangeBand} dataKey="band" type="linear" fill={ORANGE} fillOpacity={1} stroke={ORANGE} strokeWidth={6} strokeOpacity={0.7}
              dot={false} activeDot={false} isAnimationActive={false} zIndex={120}
            />
          )}
          {p.triangles && <Scatter data={p.triangles} shape={Triangle} isAnimationActive={false} zIndex={130} />}
          <Line
            data={p.fitBlue} dataKey="y" type="linear" stroke={p.fitSolidRed ? 'red' : '#0000ff'} strokeWidth={6}
            dot={false} activeDot={false} isAnimationActive={false} zIndex={140}
          />
          {p.fitRed && (
            <Line
              data={p.fitRed} dataKey="y" type="linear" stroke="red" strokeWidth={6} strokeDasharray="32 3 3 3"
              dot={false} activeDot={false} isAnimationActive={false} zIndex={150}
            />
          )}
          <CartesianGrid stroke="#bdbdbd" strokeOpacity={0.6} strokeWidth={2} strokeDasharray="14 5 3 5" zIndex={160} />
        </ComposedChart>
      </div>
      {p.legend && <Legend {...p.legend} />}
      {p.title.map(([text, x, y, size]: any) => <Caption key={text} text={text} x={x} y={y} size={size} />)}
      <Caption text={X_LABEL} x={p.xLabel[0]} y={p.xLabel[1]} size={40} />
      <Caption text={Y_LABEL} x={p.yLabel[0]} y={p.yLabel[1]} rotate={-90} size={44} />
    </>
  );
}

export default function App() {
  return (
    <div
      style={{
        position: 'fixed', left: 0, top: 0, width: 3035, height: 1548, overflow: 'hidden', background: '#dfe8e8',
      }}
    >
      <div style={{ position: 'absolute', inset: 0, filter: 'blur(0.8px)' }}>
        {HEADING_LETTERS.map(([ch, x], i) => (
          <span
            key={i}
            style={{
              position: 'absolute', left: x as number, top: -88, fontFamily: '"Liberation Sans", sans-serif', fontStyle: 'italic',
              fontSize: 80, lineHeight: '100px', color: '#000',
            }}
          >
            {ch}
          </span>
        ))}
        {PANELS.map((p, i) => <Panel key={i} p={p} />)}
      </div>
    </div>
  );
}
